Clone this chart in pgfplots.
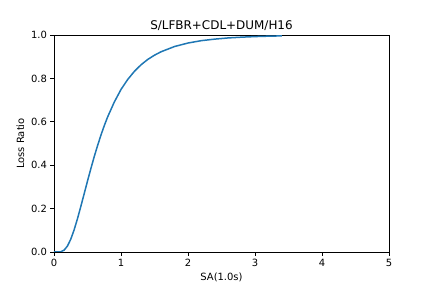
\documentclass[border=0pt]{standalone}
\usepackage{fontspec}
\setmainfont{DejaVu Sans}
\usepackage{pgfplots}
\pgfplotsset{compat=1.18}
\definecolor{c0}{HTML}{1F77B4}
\begin{document}
\begin{tikzpicture}
\useasboundingbox (-54bp,-36bp) rectangle (378bp,252bp);
\begin{axis}[
  at={(0,0)}, anchor=south west,
  scale only axis, width=335bp, height=217bp,
  xmin=0, xmax=5, ymin=0, ymax=1,
  xtick={0,1,2,3,4,5},
  ytick={0,0.2,0.4,0.6,0.8,1.0},
  yticklabel style={/pgf/number format/.cd, fixed, fixed zerofill, precision=1},
  /pgf/number format/assume math mode=true,
  tick align=outside, major tick length=3.5bp,
  tick style={black, line width=0.8bp},
  axis line style={line width=0.8bp},
  xtick pos=bottom, ytick pos=left,
  ticklabel style={font=\fontsize{10}{12}\selectfont},
  xlabel={SA(1.0s)}, ylabel={Loss Ratio},
  label style={font=\fontsize{10}{12}\selectfont},
  title={S/LFBR+CDL+DUM/H16},
  title style={font=\fontsize{12}{14}\selectfont, yshift=-5bp},
]
\addplot[c0, line width=1.5bp, mark=none] coordinates {
(0,0) (0.05,0.00002) (0.1,0.0012) (0.15,0.0084) (0.2,0.027) (0.25,0.0587)
(0.3,0.1017) (0.35,0.153) (0.4,0.2096) (0.45,0.268) (0.5,0.327) (0.55,0.384)
(0.6,0.439) (0.65,0.490) (0.7,0.538) (0.75,0.582) (0.8,0.622) (0.9,0.691)
(1.0,0.749) (1.1,0.795) (1.2,0.8325) (1.3,0.863) (1.4,0.8875) (1.5,0.907)
(1.6,0.923) (1.8,0.947) (2.0,0.963) (2.2,0.974) (2.4,0.981) (2.6,0.9865)
(2.8,0.990) (3.0,0.9927) (3.2,0.9946) (3.4,0.9959)
};
\end{axis}
\end{tikzpicture}
\end{document}
